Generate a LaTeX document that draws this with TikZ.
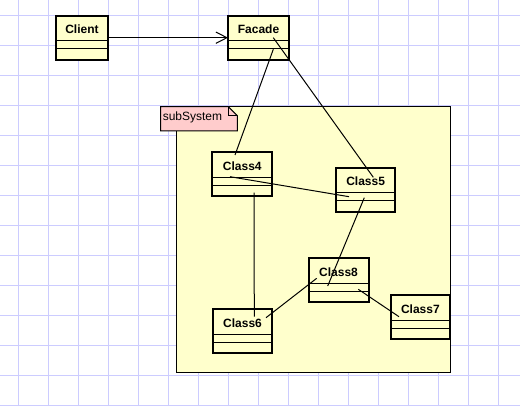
\documentclass[tikz,border=0pt]{standalone}
\usepackage{fontspec}
\setsansfont{Liberation Sans}
\usetikzlibrary{calc,arrows.meta}
\definecolor{gridc}{RGB}{204,204,255}
\definecolor{clsfill}{RGB}{255,255,204}
\definecolor{pkgfill}{RGB}{255,255,204}
\definecolor{tabfill}{RGB}{255,204,204}
\tikzset{
  gridline/.style={draw=gridc, line width=0.75pt},
  clsbox/.style={draw=black, fill=clsfill, line width=1.5pt, rectangle, inner sep=0pt, outer sep=0pt, anchor=north west, minimum height=33pt},
  clsdiv/.style={draw=black, line width=0.75pt},
  clstitle/.style={inner sep=0pt, font=\sffamily\bfseries\fontsize{9}{10}\selectfont},
  pkgbody/.style={draw=black, fill=pkgfill, line width=0.75pt, rectangle, inner sep=0pt, outer sep=0pt, anchor=north west},
  tabshape/.style={draw=black, fill=tabfill, line width=0.75pt},
  tabtext/.style={inner sep=0pt, font=\sffamily\fontsize{9}{10}\selectfont},
  conn/.style={draw=black, line width=0.75pt},
  assoc/.style={conn, -{Straight Barb[length=8.25pt,width=8.5pt]}}
}
\newcommand{\umlclass}[4]{%
  \node[clsbox, minimum width=#3] (#1) at (#2) {};
  \draw[clsdiv] ($(#1.north west)+(0,25)$) -- ($(#1.north east)+(0,25)$);
  \draw[clsdiv] ($(#1.north west)+(0,33)$) -- ($(#1.north east)+(0,33)$);
  \node[clstitle] (#1t) at ($(#1.north)+(0,14)$) {#4};
}
\begin{document}
\begin{tikzpicture}[x=0.75pt,y=-0.75pt]
\useasboundingbox (0,0) rectangle (520,406);
\fill[white] (0,0) rectangle (520,406);
% grid
\foreach \i in {0,...,16} \draw[gridline] ({18.3+30*\i},0) -- ({18.3+30*\i},406);
\foreach \i in {0,...,13} \draw[gridline] (0,{15.7+30*\i}) -- (520,{15.7+30*\i});
% package
\node[pkgbody, minimum width=206pt, minimum height=199.2pt] (pkg) at (176,106.7) {};
\node[inner sep=0pt, outer sep=0pt, anchor=north west, minimum width=57.45pt, minimum height=18.2pt] (tab) at (160.7,106.7) {};
\filldraw[tabshape] (tab.south west) -- (tab.north west) -- ($(tab.north east)+(-9,0)$) -- ($(tab.north east)+(0,9)$) -- (tab.south east) -- cycle;
\draw[tabshape, fill=none] ($(tab.north east)+(-9,0)$) -- ($(tab.north east)+(-9,9)$) -- ($(tab.north east)+(0,9)$);
\node[tabtext, anchor=base west] (tabt) at (162.5,120.3) {subSystem};
% classes
\umlclass{client}{55.7,15.7}{39.45pt}{Client}
\umlclass{facade}{228,15.7}{45.75pt}{Facade}
\umlclass{c4}{212.3,152.3}{45pt}{Class4}
\umlclass{c5}{336,167.5}{44.5pt}{Class5}
\umlclass{c6}{212.7,309}{44.7pt}{Class6}
\umlclass{c8}{308.5,258.3}{45pt}{Class8}
\umlclass{c7}{390.7,295}{44.5pt}{Class7}
% connector end points
\coordinate (fa) at ($(facade.north west)+(45.3,33.6)$);
\coordinate (fb) at ($(facade.north west)+(45.3,22)$);
\coordinate (c4a) at ($(c4.north west)+(22.7,2.7)$);
\coordinate (c4b) at ($(c4.north west)+(17.7,24.4)$);
\coordinate (c4c) at ($(c4.north west)+(41.7,40.4)$);
\coordinate (c5a) at ($(c5.north west)+(37.3,9.8)$);
\coordinate (c5b) at ($(c5.north west)+(13,29.2)$);
\coordinate (c5c) at ($(c5.north west)+(28.3,30.2)$);
\coordinate (c6a) at ($(c6.north west)+(41.6,7.7)$);
\coordinate (c6b) at ($(c6.north west)+(53.3,8.7)$);
\coordinate (c8a) at ($(c8.north west)+(19.2,27.7)$);
\coordinate (c8b) at ($(c8.north west)+(8.2,20)$);
\coordinate (c8c) at ($(c8.north west)+(49.8,31)$);
\coordinate (c7a) at ($(c7.north west)+(8.3,21.7)$);
% connectors
\draw[assoc] (client.east) -- (client.east -| facade.west);
\draw[conn] (fa) -- (c4a);
\draw[conn] (fb) -- (c5a);
\draw[conn] (c4b) -- (c5b);
\draw[conn] (c4c) -- (c6a);
\draw[conn] (c5c) -- (c8a);
\draw[conn] (c8b) -- (c6b);
\draw[conn] (c8c) -- (c7a);
\end{tikzpicture}
\end{document}
